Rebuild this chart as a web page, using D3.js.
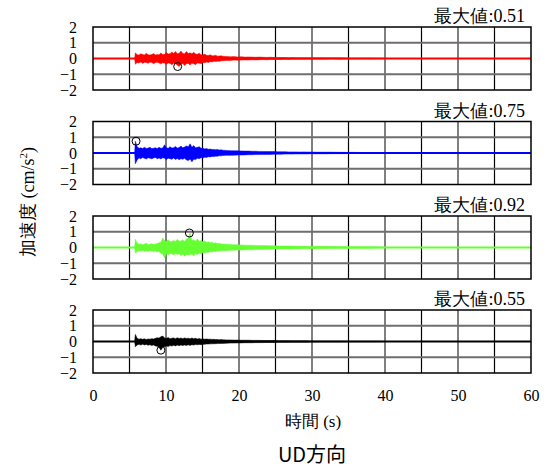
<!DOCTYPE html>
<html><head><meta charset="utf-8">
<script src="https://cdn.jsdelivr.net/npm/d3@7"></script>
<style>
html,body{margin:0;padding:0;background:#fff;}
svg{display:block;}
</style></head>
<body>
<svg id="chart" width="552" height="469"></svg>
<script>
// ---------- DATA ----------
const times = [5.7,
  5.8, 6.05, 6.3, 6.55, 6.8, 7.05, 7.3, 7.55, 7.8, 8.05, 8.3, 8.55, 8.8, 9.05, 9.3, 9.55, 9.8, 10.05, 10.3, 10.55,
  10.8, 11.05, 11.3, 11.55, 11.8, 12.05, 12.3, 12.55, 12.8, 13.05, 13.3, 13.55, 13.8, 14.05, 14.3, 14.55, 14.8, 15.05, 15.3, 15.55,
  15.8, 16.05, 16.3, 16.55, 16.8, 17.05, 17.3, 17.55, 17.8,
  18.3, 18.8, 19.3, 19.8, 20.3, 20.8, 21.3, 21.8, 22.3, 22.8, 23.3, 23.8, 24.3, 24.8, 25.3, 25.8, 26.3, 26.8, 27.3, 27.8, 28.3, 28.8, 29.3, 29.8,
  30.8, 31.8, 32.8, 33.8, 34.8, 35.8, 36.8, 37.8, 38.8, 39.8];

const redUpper = [0,
  0.36, 0.24, 0.22, 0.30, 0.25, 0.23, 0.33, 0.24, 0.22, 0.26, 0.31, 0.23, 0.25, 0.24, 0.35, 0.26, 0.27, 0.38, 0.28, 0.30,
  0.42, 0.31, 0.45, 0.30, 0.33, 0.47, 0.32, 0.30, 0.44, 0.31, 0.36, 0.30, 0.40, 0.28, 0.27, 0.34, 0.24, 0.23, 0.28, 0.20,
  0.19, 0.24, 0.17, 0.18, 0.20, 0.15, 0.16, 0.17, 0.14,
  0.13, 0.11, 0.12, 0.10, 0.11, 0.09, 0.10, 0.09, 0.08, 0.09, 0.08, 0.07, 0.08, 0.06, 0.07, 0.06, 0.06, 0.05, 0.06, 0.05, 0.05, 0.04, 0.05, 0.04,
  0.05, 0.04, 0.04, 0.04, 0.03, 0.03, 0.03, 0.03, 0.02, 0.02];
const redLower = [0,
  -0.36, -0.25, -0.28, -0.23, -0.31, -0.24, -0.26, -0.30, -0.23, -0.25, -0.33, -0.26, -0.24, -0.28, -0.34, -0.27, -0.29, -0.36, -0.28, -0.31,
  -0.40, -0.30, -0.33, -0.42, -0.51, -0.36, -0.32, -0.45, -0.33, -0.31, -0.42, -0.30, -0.34, -0.39, -0.28, -0.30, -0.33, -0.25, -0.27, -0.23,
  -0.25, -0.20, -0.22, -0.18, -0.19, -0.17, -0.18, -0.15, -0.14,
  -0.12, -0.13, -0.10, -0.11, -0.10, -0.09, -0.10, -0.08, -0.09, -0.08, -0.07, -0.08, -0.06, -0.07, -0.06, -0.06, -0.05, -0.06, -0.05, -0.05, -0.04, -0.05, -0.04, -0.04,
  -0.04, -0.04, -0.03, -0.04, -0.03, -0.03, -0.02, -0.03, -0.02, -0.02];

const blueUpper = [0,
  0.75, 0.40, 0.30, 0.33, 0.28, 0.36, 0.29, 0.31, 0.37, 0.28, 0.30, 0.33, 0.29, 0.36, 0.30, 0.32, 0.52, 0.33, 0.30, 0.40,
  0.32, 0.34, 0.42, 0.31, 0.35, 0.44, 0.33, 0.38, 0.45, 0.40, 0.58, 0.36, 0.47, 0.33, 0.36, 0.40, 0.30, 0.32, 0.26, 0.28,
  0.24, 0.25, 0.22, 0.23, 0.21, 0.22, 0.19, 0.20, 0.18,
  0.16, 0.15, 0.14, 0.14, 0.13, 0.12, 0.12, 0.11, 0.11, 0.10, 0.10, 0.09, 0.09, 0.09, 0.08, 0.08, 0.08, 0.07, 0.07, 0.07, 0.06, 0.07, 0.06, 0.06,
  0.05, 0.05, 0.05, 0.04, 0.04, 0.04, 0.03, 0.03, 0.03, 0.03];
const blueLower = [0,
  -0.68, -0.45, -0.32, -0.36, -0.29, -0.34, -0.38, -0.30, -0.33, -0.37, -0.31, -0.29, -0.36, -0.32, -0.38, -0.30, -0.34, -0.42, -0.33, -0.36,
  -0.40, -0.32, -0.41, -0.35, -0.43, -0.36, -0.40, -0.34, -0.44, -0.48, -0.38, -0.56, -0.40, -0.42, -0.34, -0.36, -0.30, -0.32, -0.27, -0.28,
  -0.24, -0.25, -0.22, -0.23, -0.20, -0.20, -0.18, -0.18, -0.16,
  -0.15, -0.15, -0.14, -0.13, -0.13, -0.12, -0.11, -0.11, -0.10, -0.10, -0.09, -0.09, -0.09, -0.08, -0.08, -0.08, -0.07, -0.07, -0.07, -0.06, -0.06, -0.06, -0.06, -0.05,
  -0.05, -0.05, -0.04, -0.04, -0.04, -0.03, -0.03, -0.03, -0.03, -0.02];

const greenUpper = [0,
  0.52, 0.28, 0.20, 0.24, 0.18, 0.22, 0.27, 0.19, 0.21, 0.24, 0.20, 0.23, 0.25, 0.30, 0.35, 0.60, 0.44, 0.38, 0.50, 0.36,
  0.40, 0.45, 0.37, 0.52, 0.40, 0.42, 0.48, 0.38, 0.55, 0.58, 0.92, 0.45, 0.50, 0.40, 0.55, 0.38, 0.45, 0.36, 0.42, 0.33,
  0.36, 0.30, 0.33, 0.27, 0.30, 0.25, 0.27, 0.23, 0.22,
  0.20, 0.19, 0.17, 0.18, 0.16, 0.15, 0.15, 0.14, 0.13, 0.13, 0.12, 0.12, 0.11, 0.11, 0.10, 0.10, 0.09, 0.10, 0.09, 0.08, 0.08, 0.08, 0.07, 0.07,
  0.07, 0.06, 0.06, 0.05, 0.05, 0.05, 0.04, 0.04, 0.04, 0.03];
const greenLower = [0,
  -0.35, -0.26, -0.20, -0.24, -0.19, -0.25, -0.21, -0.24, -0.20, -0.22, -0.26, -0.21, -0.28, -0.25, -0.36, -0.42, -0.65, -0.40, -0.46, -0.38,
  -0.40, -0.47, -0.38, -0.44, -0.40, -0.52, -0.42, -0.55, -0.44, -0.48, -0.45, -0.42, -0.52, -0.40, -0.44, -0.37, -0.40, -0.33, -0.35, -0.30,
  -0.31, -0.27, -0.28, -0.24, -0.25, -0.22, -0.23, -0.20, -0.20,
  -0.19, -0.18, -0.17, -0.16, -0.16, -0.15, -0.14, -0.14, -0.13, -0.12, -0.12, -0.11, -0.11, -0.10, -0.10, -0.09, -0.09, -0.09, -0.08, -0.08, -0.08, -0.07, -0.07, -0.07,
  -0.06, -0.06, -0.05, -0.05, -0.05, -0.04, -0.04, -0.04, -0.03, -0.03];

const blackUpper = [0,
  0.45, 0.20, 0.15, 0.18, 0.14, 0.17, 0.13, 0.16, 0.15, 0.18, 0.16, 0.20, 0.24, 0.22, 0.30, 0.35, 0.22, 0.20, 0.25, 0.18,
  0.21, 0.23, 0.18, 0.24, 0.19, 0.22, 0.18, 0.23, 0.19, 0.21, 0.17, 0.22, 0.18, 0.20, 0.16, 0.19, 0.15, 0.17, 0.14, 0.16,
  0.14, 0.15, 0.13, 0.14, 0.12, 0.13, 0.11, 0.12, 0.11,
  0.10, 0.10, 0.09, 0.09, 0.08, 0.08, 0.08, 0.07, 0.07, 0.07, 0.06, 0.06, 0.06, 0.06, 0.05, 0.05, 0.05, 0.05, 0.04, 0.04, 0.04, 0.04, 0.04, 0.03,
  0.03, 0.03, 0.03, 0.03, 0.02, 0.02, 0.02, 0.02, 0.02, 0.01];
const blackLower = [0,
  -0.33, -0.22, -0.18, -0.23, -0.17, -0.22, -0.19, -0.24, -0.20, -0.26, -0.22, -0.28, -0.30, -0.38, -0.55, -0.36, -0.34, -0.28, -0.32, -0.26,
  -0.29, -0.24, -0.28, -0.23, -0.27, -0.22, -0.26, -0.22, -0.25, -0.21, -0.25, -0.20, -0.23, -0.19, -0.21, -0.19, -0.20, -0.17, -0.18, -0.16,
  -0.16, -0.15, -0.15, -0.14, -0.14, -0.13, -0.13, -0.12, -0.12,
  -0.11, -0.10, -0.10, -0.09, -0.09, -0.08, -0.08, -0.08, -0.07, -0.07, -0.07, -0.06, -0.06, -0.06, -0.05, -0.05, -0.05, -0.05, -0.04, -0.04, -0.04, -0.04, -0.04, -0.03,
  -0.03, -0.03, -0.03, -0.03, -0.02, -0.02, -0.02, -0.02, -0.02, -0.01];

const seriesColors = ["#ff0000", "#0000ff", "#66ff33", "#000000"];
const maxLabels = ["最大値:0.51", "最大値:0.75", "最大値:0.92", "最大値:0.55"];
const peakTimes = [11.6, 5.9, 13.2, 9.3];
const peakValues = [-0.51, 0.75, 0.92, -0.55];
const yTicks = [2, 1, 0, -1, -2];
const xTicks = [0, 10, 20, 30, 40, 50, 60];
const gridTimes = [5, 10, 15, 20, 25, 30, 35, 40, 45, 50, 55];
const xLabel = "時間 (s)";
const yLabelMain = "加速度 (cm/s";
const title = "UD方向";

const uppers = [redUpper, blueUpper, greenUpper, blackUpper];
const lowers = [redLower, blueLower, greenLower, blackLower];

// ---------- LAYOUT ----------
const svg = d3.select("#chart");
const serif = '"Liberation Serif", "DejaVu Serif", serif';
const x = d3.scaleLinear().domain([0, 60]).range([93, 531]);
const panelTops = [27, 121.5, 216, 310];
const panelH = 63;

panelTops.forEach((top, i) => {
  const y = d3.scaleLinear().domain([-2, 2]).range([top + panelH, top]);
  const g = svg.append("g");

  g.selectAll("line.vg").data(gridTimes).enter().append("line")
    .attr("x1", d => x(d)).attr("x2", d => x(d))
    .attr("y1", top).attr("y2", top + panelH)
    .attr("stroke", d => d % 10 === 0 ? "#808080" : "#000")
    .attr("stroke-width", d => d % 10 === 0 ? 2 : 1.2);
  g.selectAll("line.hg").data([1, 0, -1]).enter().append("line")
    .attr("x1", x(0)).attr("x2", x(60))
    .attr("y1", d => y(d)).attr("y2", d => y(d))
    .attr("stroke", d => d === 0 ? "#000" : "#6e6e6e")
    .attr("stroke-width", d => d === 0 ? 1.2 : 1.8);

  const pts = times.map((t, k) => ({t, hi: uppers[i][k], lo: lowers[i][k]}));
  const area = d3.area().x(d => x(d.t)).y0(d => y(d.lo)).y1(d => y(d.hi));
  g.append("path").attr("d", area(pts))
    .attr("fill", seriesColors[i]).attr("stroke", seriesColors[i]).attr("stroke-width", 0.5);
  g.append("line").attr("x1", x(0)).attr("x2", x(60))
    .attr("y1", y(0)).attr("y2", y(0))
    .attr("stroke", seriesColors[i]).attr("stroke-width", 2);

  g.append("rect").attr("x", x(0)).attr("y", top)
    .attr("width", x(60) - x(0)).attr("height", panelH)
    .attr("fill", "none").attr("stroke", "#000").attr("stroke-width", 1.5);

  g.append("circle").attr("cx", x(peakTimes[i])).attr("cy", y(peakValues[i]))
    .attr("r", 4).attr("fill", "none").attr("stroke", "#000").attr("stroke-width", 1);

  const ax = g.append("g").attr("transform", `translate(${x(0)},0)`)
    .call(d3.axisLeft(y).tickValues(yTicks).tickSize(0).tickPadding(16).tickFormat(d3.format("d")));
  ax.select(".domain").remove();
  ax.attr("font-family", null);
  ax.selectAll("text").style("font-family", serif).style("font-size", "16px").attr("fill", "#000");

  g.append("text").attr("x", 525).attr("y", top - 5)
    .attr("text-anchor", "end").style("font-family", serif).style("font-size", "18px")
    .text(maxLabels[i]);

  if (i === panelTops.length - 1) {
    const xa = g.append("g").attr("transform", `translate(0,${top + panelH})`)
      .call(d3.axisBottom(x).tickValues(xTicks).tickSize(0).tickPadding(17));
    xa.select(".domain").remove();
    xa.attr("font-family", null);
    xa.selectAll("text").style("font-family", serif).style("font-size", "16px").attr("fill", "#000");
  }
});

svg.append("text").attr("x", 313).attr("y", 427).attr("text-anchor", "middle")
  .style("font-family", serif).style("font-size", "17px").text(xLabel);

const yl = svg.append("text").attr("transform", "translate(34,202) rotate(-90)")
  .attr("text-anchor", "middle").style("font-family", serif).style("font-size", "18px");
yl.append("tspan").text(yLabelMain);
yl.append("tspan").text("2").style("font-size", "11px").attr("dy", -7);
yl.append("tspan").text(")").attr("dy", 7);

svg.append("text").attr("x", 312).attr("y", 462).attr("text-anchor", "middle")
  .style("font-family", '"Noto Sans CJK JP", "Noto Sans", sans-serif').style("font-size", "20px")
  .text(title);
</script>
</body></html>
